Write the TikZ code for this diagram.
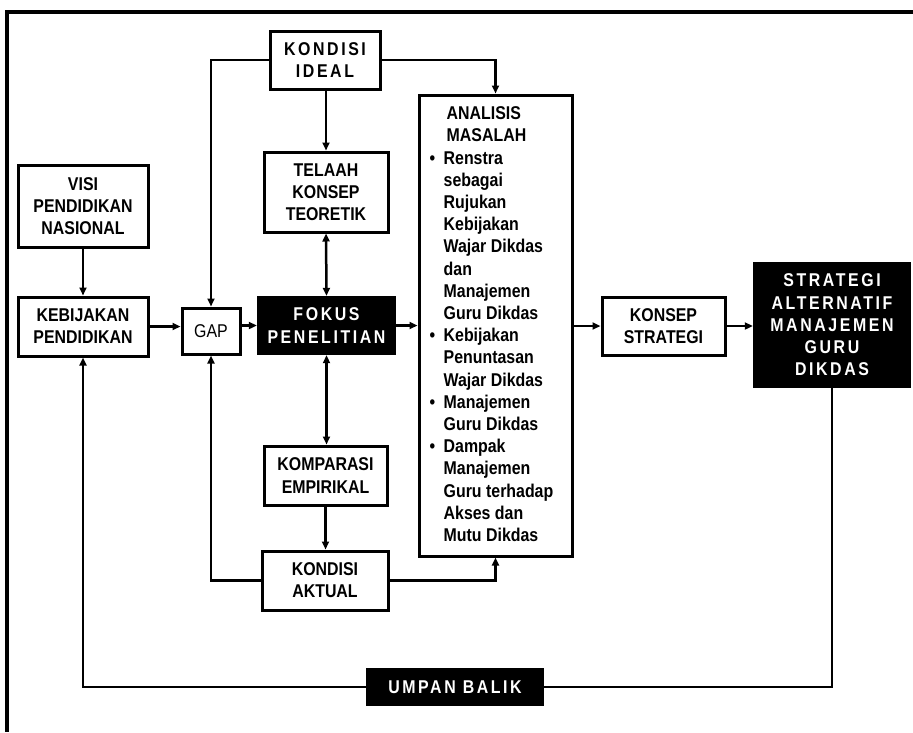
\documentclass[tikz,border=0pt]{standalone}
\usepackage{fontspec}
\setmainfont[FakeStretch=0.86]{Liberation Sans}
\newfontfamily\spacedfont[FakeStretch=0.86,LetterSpace=14]{Liberation Sans}
\usetikzlibrary{arrows.meta}
\newcommand\anabul{\makebox[14pt][l]{•}}
\newcommand\anaind{\hspace*{14pt}}
\begin{document}
\begin{tikzpicture}[x=1pt,y=-1pt,
  box/.style={draw,line width=3pt,inner sep=0pt,align=center,
    font=\fontsize{18.5}{22.2}\selectfont\bfseries},
  spacedbox/.style={box,font=\fontsize{18.5}{22.2}\selectfont\spacedfont\bfseries},
  blackbox/.style={fill=black,text=white,inner sep=0pt,align=center,
    font=\fontsize{18.5}{22.2}\selectfont\spacedfont\bfseries},
  conn/.style={line width=2.5pt},
  arr/.style={conn,-{Triangle[length=8pt,width=7pt]}},
  darr/.style={conn,{Triangle[length=8pt,width=7pt]}-{Triangle[length=8pt,width=7pt]}},
]
\useasboundingbox (0,0) rectangle (913,732);
% frame
\draw[line width=4pt] (913,12) -- (7,12) -- (7,732);

% nodes
\node[spacedbox,minimum width=110pt,minimum height=58pt] (ideal) at (325,60) {KONDISI\\IDEAL};
\node[box,minimum width=124pt,minimum height=80pt] (telaah) at (326,192) {TELAAH\\KONSEP\\TEORETIK};
\node[box,minimum width=130pt,minimum height=82pt] (visi) at (83,206) {VISI\\PENDIDIKAN\\NASIONAL};
\node[box,minimum width=130pt,minimum height=59pt] (kebij) at (83,326.5) {KEBIJAKAN\\PENDIDIKAN};
\node[box,font=\fontsize{18.5}{22.2}\selectfont,minimum width=58pt,minimum height=46pt] (gap) at (211,331) {GAP};
\node[blackbox,minimum width=139pt,minimum height=59pt] (fokus) at (326.5,325.5) {FOKUS\\PENELITIAN};
\node[box,minimum width=123pt,minimum height=59pt] (komp) at (325.5,475.5) {KOMPARASI\\EMPIRIKAL};
\node[box,minimum width=126pt,minimum height=59pt] (aktual) at (325,580.5) {KONDISI\\AKTUAL};
\node[box,minimum width=153pt,minimum height=461pt] (ana) at (495.5,325.5) {};
\node[anchor=north west,inner sep=0pt,align=left,font=\fontsize{18.5}{22.2}\selectfont\bfseries,
  xshift=12pt,yshift=-13pt] (anatext) at (ana.north west)
  {\hspace*{17pt}ANALISIS\\
   \hspace*{17pt}MASALAH\\
   \anabul Renstra\\
   \anaind sebagai\\
   \anaind Rujukan\\
   \anaind Kebijakan\\
   \anaind Wajar Dikdas\\
   \anaind dan\\
   \anaind Manajemen\\
   \anaind Guru Dikdas\\
   \anabul Kebijakan\\
   \anaind Penuntasan\\
   \anaind Wajar Dikdas\\
   \anabul Manajemen\\
   \anaind Guru Dikdas\\
   \anabul Dampak\\
   \anaind Manajemen\\
   \anaind Guru terhadap\\
   \anaind Akses dan\\
   \anaind Mutu Dikdas};
\node[box,minimum width=123pt,minimum height=58pt] (konsep) at (663.5,326) {KONSEP\\STRATEGI};
\node[blackbox,minimum width=158pt,minimum height=126pt] (strat) at (832,325) {STRATEGI\\ALTERNATIF\\MANAJEMEN\\GURU\\DIKDAS};
\node[blackbox,minimum width=178pt,minimum height=38pt] (umpan) at (455,687) {UMPAN BALIK};

% connectors
\draw[arr] (ideal.west) -| (gap.north);
\draw[arr] (ideal.east) -| (ana.north);
\draw[arr] (ideal.south -| telaah.north) -- (telaah.north);
\draw[darr] (telaah.south) -- (fokus.north);
\draw[darr] (fokus.south) -- (fokus.south |- komp.north);
\draw[arr] (komp.south) -- (komp.south |- aktual.north);
\draw[arr] (aktual.west) -| (gap.south);
\draw[arr] (aktual.east) -| (ana.south);
\draw[arr] (visi.south) -- (kebij.north);
\draw[arr] (kebij.east) -- (kebij.east -| gap.west);
\draw[arr] (gap.east |- fokus.west) -- (fokus.west);
\draw[arr] (fokus.east) -- (fokus.east -| ana.west);
\draw[arr] (ana.east |- konsep.west) -- (konsep.west);
\draw[arr] (konsep.east) -- (konsep.east -| strat.west);
\draw[conn] (strat.south) |- (umpan.east);
\draw[arr] (umpan.west) -| (kebij.south);
\end{tikzpicture}
\end{document}
